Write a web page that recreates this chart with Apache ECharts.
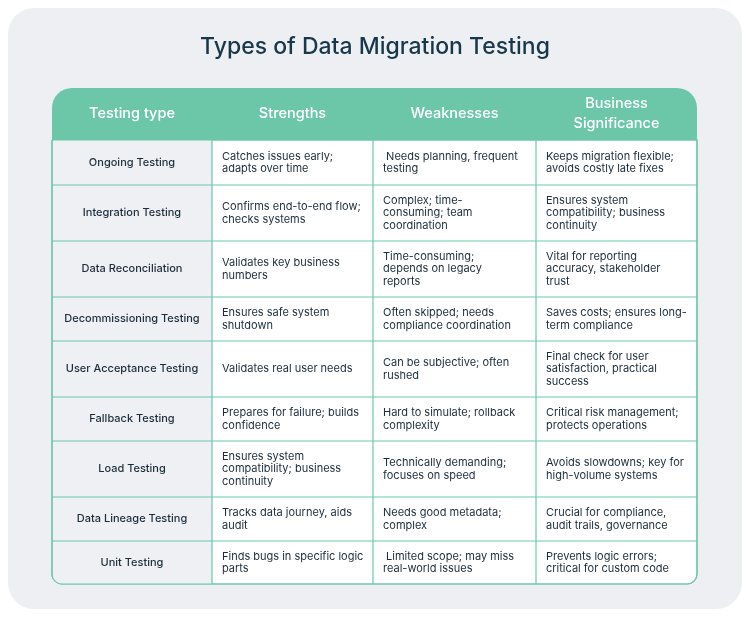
<!DOCTYPE html><html><head><meta charset="utf-8"><script src="https://cdn.jsdelivr.net/npm/echarts@6/dist/echarts.min.js"></script>
<style>html,body{margin:0;background:#fff}#c{width:750px;height:617px}</style></head><body><div id="c"></div>
<script>
const title='Types of Data Migration Testing';
const headers=['Testing type','Strengths','Weaknesses','Business\nSignificance'];
const testingTypes=['Ongoing Testing','Integration Testing','Data Reconciliation','Decommissioning Testing','User Acceptance Testing','Fallback Testing','Load Testing','Data Lineage Testing','Unit Testing'];
const strengths=['Catches issues early;\nadapts over time','Confirms end-to-end flow;\nchecks systems','Validates key business\nnumbers','Ensures safe system\nshutdown','Validates real user needs','Prepares for failure; builds\nconfidence','Ensures system\ncompatibility; business\ncontinuity','Tracks data journey, aids\naudit','Finds bugs in specific logic\nparts'];
const weaknesses=[' Needs planning, frequent\ntesting','Complex; time-\nconsuming; team\ncoordination','Time-consuming;\ndepends on legacy\nreports','Often skipped; needs\ncompliance coordination','Can be subjective; often\nrushed','Hard to simulate; rollback\ncomplexity','Technically demanding;\nfocuses on speed','Needs good metadata;\ncomplex',' Limited scope; may miss\nreal-world issues'];
const significance=['Keeps migration flexible;\navoids costly late fixes','Ensures system\ncompatibility; business\ncontinuity','Vital for reporting\naccuracy, stakeholder\ntrust','Saves costs; ensures long-\nterm compliance','Final check for user\nsatisfaction, practical\nsuccess','Critical risk management;\nprotects operations','Avoids slowdowns; key for\nhigh-volume systems','Crucial for compliance,\naudit trails, governance','Prevents logic errors;\ncritical for custom code'];
const colX=[52,212,373,536,697];
const rowY=[88,140,185,241,297,341,397,441,497,541,584];
const green='#6cc7a9', font='Inter';
const cols=[testingTypes,strengths,weaknesses,significance];
const g=[];
g.push({type:'rect',shape:{x:8,y:8,width:734,height:601,r:26},style:{fill:'#eeeff3'}});
g.push({type:'text',style:{text:title,x:375,y:47,align:'center',verticalAlign:'middle',font:'500 23px '+font,fill:'#17384a'}});
g.push({type:'rect',shape:{x:52,y:140,width:645,height:444,r:[0,0,10,10]},style:{fill:'#fff',stroke:green,lineWidth:1.2}});
for(let r=0;r<testingTypes.length;r++){
  g.push({type:'rect',shape:{x:53,y:rowY[r+1],width:159,height:rowY[r+2]-rowY[r+1]},style:{fill:'#eef0f4'}});
}
g.push({type:'rect',shape:{x:52,y:88,width:645,height:52,r:[20,20,0,0]},style:{fill:green}});
for(let r=2;r<rowY.length-1;r++) g.push({type:'line',shape:{x1:52,y1:rowY[r],x2:697,y2:rowY[r]},style:{stroke:green,lineWidth:1.2}});
for(let c=1;c<4;c++) g.push({type:'line',shape:{x1:colX[c],y1:140,x2:colX[c],y2:584},style:{stroke:green,lineWidth:1.2}});
g.push({type:'rect',shape:{x:52,y:140,width:645,height:444,r:[0,0,10,10]},style:{fill:null,stroke:green,lineWidth:1.2}});
headers.forEach((h,c)=>g.push({type:'text',style:{text:h,x:(colX[c]+colX[c+1])/2,y:114,align:'center',verticalAlign:'middle',font:'500 14.5px '+font,fill:'#fff',lineHeight:20}}));
cols.forEach((arr,c)=>arr.forEach((t,r)=>{
  const y=(rowY[r+1]+rowY[r+2])/2;
  g.push({type:'text',style:{text:t,x:c===0?(colX[0]+colX[1])/2:colX[c]+10,y:y,align:c===0?'center':'left',verticalAlign:'middle',font:(c===0?'500 ':'400 ')+'11px '+font,fill:'#1c2d3a',lineHeight:12.5}});
}));
echarts.init(document.getElementById('c')).setOption({animation:false,graphic:g});
</script></body></html>
